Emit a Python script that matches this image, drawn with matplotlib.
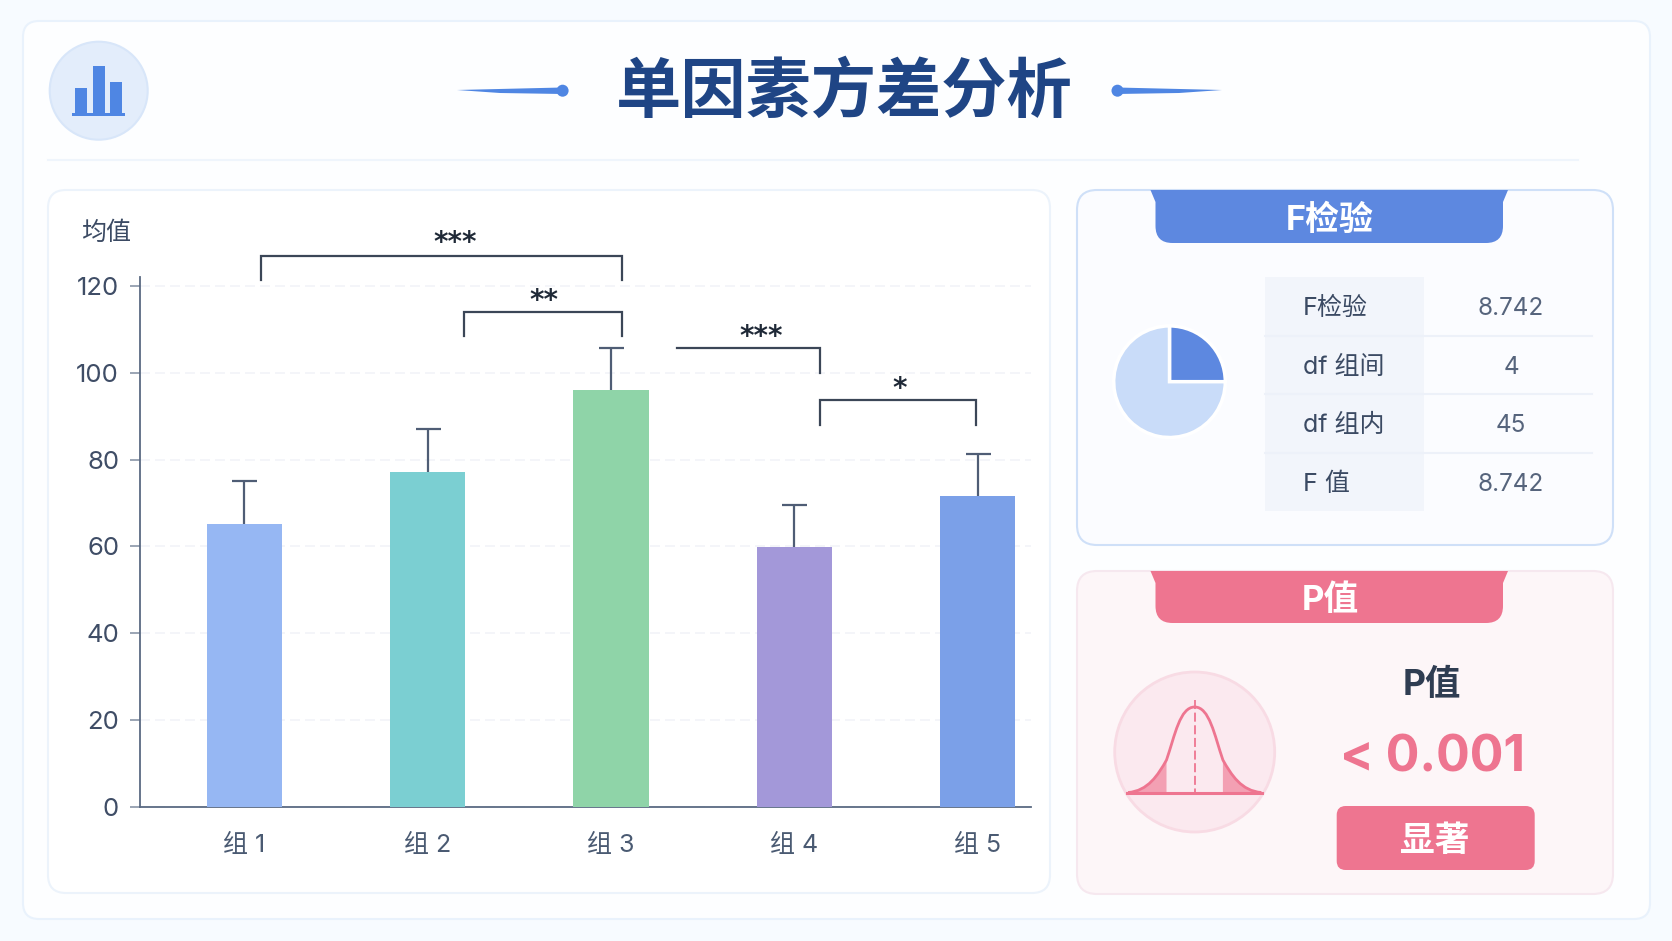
import matplotlib
matplotlib.use('Agg')
import matplotlib.pyplot as plt
from matplotlib.patches import Circle, FancyBboxPatch, PathPatch, Polygon, Rectangle
from matplotlib.path import Path

plt.rcParams['font.family'] = ['Noto Sans CJK SC', 'DejaVu Sans']
LATIN = ['Inter', 'Noto Sans CJK SC']

# chart data
groups = ['组 1', '组 2', '组 3', '组 4', '组 5']
means = [65.2, 77.1, 96, 59.8, 71.5]
errs = [9.8, 10, 9.8, 9.7, 9.8]
bar_colors = ['#96b7f3', '#7bcfd2', '#8fd4a8', '#a398d9', '#7ba0e8']
yticks = [0, 20, 40, 60, 80, 100, 120]

# significance brackets, x in group position, y in value
br_left = [0.09, 1.2, 2.357, 3.139]
br_right = [2.058, 2.058, 3.139, 3.989]
br_top = [127, 114, 105.7, 93.7]
br_drop = [121.5, 108.5, 100, 88]
br_has_left = [True, True, False, True]
br_stars = ['***', '**', '***', '*']
br_star_x = [1.15, 1.635, 2.82, 3.575]
br_star_y = [130.0, 116.6, 108.2, 96.3]

# F test table
tbl_labels = ['F检验', 'df 组间', 'df 组内', 'F 值']
tbl_values = ['8.742', '4', '45', '8.742']
pie_shares = [25, 75]

W, H = 1672, 941
fig = plt.figure(figsize=(W / 100, H / 100), dpi=100, facecolor='#f7fbff')

# pixel-space layer for cards and decoration
bg = fig.add_axes([0, 0, 1, 1], zorder=0)
bg.set_xlim(0, W)
bg.set_ylim(H, 0)
bg.axis('off')


def card(x0, y0, x1, y1, r, fc, ec, lw=1.5, z=1):
    p = FancyBboxPatch((x0 + r, y0 + r), x1 - x0 - 2 * r, y1 - y0 - 2 * r,
                       boxstyle=f'round,pad={r},rounding_size={r}',
                       fc=fc, ec=ec, lw=lw, zorder=z)
    bg.add_patch(p)


def tab(x0, x1, y0, y1, r, color):
    verts = [(x0 - 5, y0), (x1 + 5, y0), (x1, y0 + 12), (x1, y1 - r), (x1, y1), (x1 - r, y1),
             (x0 + r, y1), (x0, y1), (x0, y1 - r), (x0, y0 + 12), (x0 - 5, y0)]
    codes = [Path.MOVETO, Path.LINETO, Path.LINETO, Path.LINETO, Path.CURVE3, Path.CURVE3,
             Path.LINETO, Path.CURVE3, Path.CURVE3, Path.LINETO, Path.CLOSEPOLY]
    bg.add_patch(PathPatch(Path(verts, codes), fc=color, ec='none', zorder=3))


card(23, 21, 1650, 919, 16, '#fdfeff', '#e9f2fc', 1.5)
bg.plot([48, 1578], [160, 160], color='#eff5fc', lw=1.5, zorder=2)
card(48, 190, 1050, 893, 18, '#ffffff', '#ecf3fb', 1.5, 2)
card(1077, 190, 1613, 545, 20, '#fbfcff', '#cfe0f8', 1.5, 2)
card(1077, 571, 1613, 894, 20, '#fdf6f8', '#f6e8ef', 1.5, 2)

# header icon
bg.add_patch(Circle((98.7, 90.7), 49, fc='#e3edfb', ec='#d8e6f9', lw=1.5, zorder=3))
for bx, top in zip([75.4, 92.6, 109.8], [88.3, 66, 81.7]):
    bg.add_patch(Rectangle((bx, top), 12, 114 - top, fc='#4f86e3', ec='none', zorder=4))
bg.add_patch(Rectangle((72, 113), 53, 3, fc='#4f86e3', ec='none', zorder=4))

# title and its two side marks
bg.text(844, 92, '单因素方差分析', fontsize=47, fontweight='bold', color='#1f4585',
        ha='center', va='center', zorder=5)
bg.add_patch(Polygon([(457, 90), (562, 87.5), (562, 94), (500, 93)], fc='#4f86e3', ec='none', zorder=4))
bg.add_patch(Circle((562.6, 90.7), 6, fc='#4f86e3', ec='none', zorder=4))
bg.add_patch(Polygon([(1222, 90), (1117, 87.5), (1117, 94), (1179, 93)], fc='#4f86e3', ec='none', zorder=4))
bg.add_patch(Circle((1117.5, 90.7), 6, fc='#4f86e3', ec='none', zorder=4))

# bar chart
ax_x0, ax_x1, ax_y0, ax_y1 = 140, 1031, 806.5, 276.7
ax = fig.add_axes([ax_x0 / W, 1 - ax_y0 / H, (ax_x1 - ax_x0) / W, (ax_y0 - ax_y1) / H], zorder=2)
ax.patch.set_alpha(0)
ax.set_xlim(-0.567, 4.289)
ax.set_ylim(0, 122.15)
xs = list(range(len(groups)))
tops = [m + e for m, e in zip(means, errs)]
ax.bar(xs, means, width=0.409, color=bar_colors, zorder=3)
ax.vlines(xs, means, tops, color='#4f5d75', lw=1.6, zorder=2)
ax.plot(xs, tops, ls='none', marker='_', ms=18, mew=1.6, color='#4f5d75', zorder=2)
ax.set_xticks(xs)
ax.set_xticklabels(groups, fontsize=18, color='#4a5a72', family=LATIN)
ax.set_yticks(yticks)
ax.set_yticklabels([str(t) for t in yticks], fontsize=18.5, color='#3f4d66', family=LATIN)
ax.tick_params(axis='x', length=0, pad=20)
ax.tick_params(axis='y', length=7, width=1.2, color='#8a96a8', pad=8)
ax.yaxis.grid(True, color='#f2f4f8', lw=1.2, ls=(0, (6, 3)), zorder=0)
ax.set_axisbelow(True)
for s in ['top', 'right']:
    ax.spines[s].set_visible(False)
for s in ['left', 'bottom']:
    ax.spines[s].set_color('#5a6a82')
    ax.spines[s].set_linewidth(1.3)

for i in range(len(br_left)):
    bx = [br_left[i], br_right[i], br_right[i]]
    by = [br_top[i], br_top[i], br_drop[i]]
    if br_has_left[i]:
        bx = [br_left[i]] + bx
        by = [br_drop[i]] + by
    ax.plot(bx, by, color='#3b4657', lw=1.6, clip_on=False, zorder=4, solid_joinstyle='miter')
    ax.text(br_star_x[i], br_star_y[i], br_stars[i], fontsize=20, fontweight='bold',
            family='DejaVu Sans', color='#1f2937', ha='center', va='center', clip_on=False)

bg.text(81, 233, '均值', fontsize=18, color='#3b4a63', ha='left', va='center', zorder=5)

# F test card
tab(1155.5, 1503, 190, 243, 17, '#5d88e0')
bg.text(1330, 221, 'F检验', fontsize=24.5, fontweight='bold', color='white', ha='center', va='center',
        family=LATIN, zorder=5)

pie_ax = fig.add_axes([(1169.5 - 60) / W, 1 - (381.7 + 60) / H, 120 / W, 120 / H], zorder=3)
pie_ax.pie(pie_shares, colors=['#5d88e0', '#c9dcf9'], startangle=0, radius=0.93,
           wedgeprops=dict(edgecolor='white', linewidth=2.5))
pie_ax.set_xlim(-1, 1)
pie_ax.set_ylim(-1, 1)

tbl_rows = [277, 335.5, 394, 452.5, 511]
bg.add_patch(Rectangle((1265, 277), 159, 234, fc='#f2f5fb', ec='none', zorder=3))
for ry in tbl_rows[1:-1]:
    bg.plot([1265, 1592], [ry, ry], color='#edf1f9', lw=1.5, zorder=4)
for i in range(len(tbl_labels)):
    cy = (tbl_rows[i] + tbl_rows[i + 1]) / 2
    bg.text(1303, cy + 2.5, tbl_labels[i], fontsize=18, color='#3b4a63', ha='left', va='center',
            family=LATIN, zorder=5)
    bg.text(1511, cy + 2.5, tbl_values[i], fontsize=17.5, color='#56647c', ha='center', va='center',
            family=LATIN, zorder=5)

# P value card
tab(1155.5, 1503, 571, 623, 17, '#ee7590')
bg.text(1330, 601, 'P值', fontsize=25, fontweight='bold', color='white', ha='center', va='center',
        family=LATIN, zorder=5)

bg.add_patch(Circle((1194.7, 752), 80, fc='#fbe9ef', ec='#f8dbe4', lw=2, zorder=3))
left_tail = [(1128, 792.5), (1148, 791), (1158, 775), (1166.5, 760)]
right_tail = [(2 * 1194.7 - px, py) for px, py in left_tail]
c4 = [Path.MOVETO, Path.CURVE4, Path.CURVE4, Path.CURVE4]
for tail, edge_x in [(left_tail, 1166.5), (right_tail, 1222.9)]:
    bg.add_patch(PathPatch(Path(tail + [(edge_x, 792.5), tail[0]], c4 + [Path.LINETO, Path.CLOSEPOLY]),
                           fc='#f3a0b3', ec='none', zorder=4))
bell = left_tail + [(1175, 735), (1180, 707), (1194.7, 707), (1209.4, 707), (1214.4, 735), (1222.9, 760)] + right_tail[2::-1] + [right_tail[0]]
bell = bell[:13]
bell_codes = [Path.MOVETO] + [Path.CURVE4] * (len(bell) - 1)
bg.add_patch(PathPatch(Path(bell, bell_codes), fc='none', ec='#ee7590', lw=2, zorder=5))
bg.plot([1127, 1262], [792.7, 792.7], color='#ee7590', lw=2.2, zorder=5)
bg.plot([1194.7, 1194.7], [700, 792], color='#ee7590', lw=1.3, ls=(0, (5, 2)), zorder=5)

bg.text(1432, 685, 'P值', fontsize=25.5, fontweight='bold', color='#2f3d52', ha='center', va='center',
        family=LATIN, zorder=5)
bg.text(1433, 758, '< 0.001', fontsize=36, fontweight='bold', color='#ee7590', ha='center', va='center',
        family=LATIN, zorder=5)
card(1336.7, 806, 1534.7, 870, 9, '#ee7590', 'none', 0, 4)
bg.text(1435, 840, '显著', fontsize=25, fontweight='bold', color='white', ha='center', va='center', zorder=5)

fig.savefig('out.png', dpi=100, facecolor=fig.get_facecolor())
